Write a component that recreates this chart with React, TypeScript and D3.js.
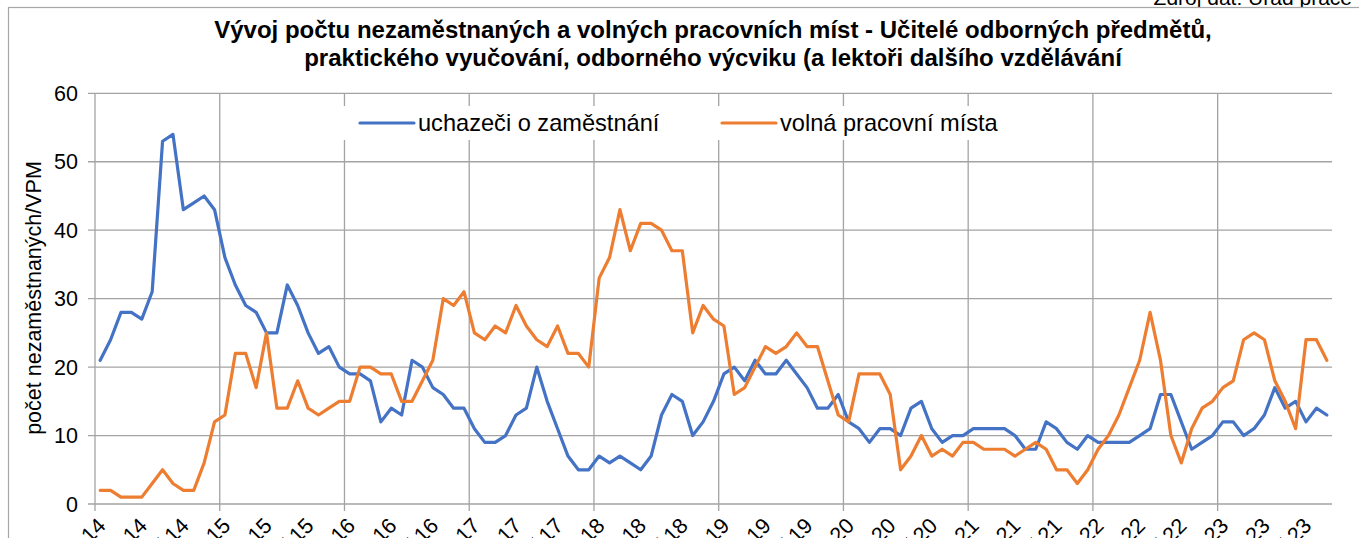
import * as React from 'react';
import * as d3 from 'd3';

// months Jan 2014 .. Nov 2023
const months = d3.timeMonth.range(new Date(2014, 0, 1), new Date(2023, 11, 1));
const monthNames = ['led', 'úno', 'bře', 'dub', 'kvě', 'čvn', 'čvc', 'srp', 'zář', 'říj', 'lis', 'pro'];

const uchazeci = [
  21, 24, 28, 28, 27, 31, 53, 54, 43, 44, 45, 43,
  36, 32, 29, 28, 25, 25, 32, 29, 25, 22, 23, 20,
  19, 19, 18, 12, 14, 13, 21, 20, 17, 16, 14, 14,
  11, 9, 9, 10, 13, 14, 20, 15, 11, 7, 5, 5,
  7, 6, 7, 6, 5, 7, 13, 16, 15, 10, 12, 15,
  19, 20, 18, 21, 19, 19, 21, 19, 17, 14, 14, 16,
  12, 11, 9, 11, 11, 10, 14, 15, 11, 9, 10, 10,
  11, 11, 11, 11, 10, 8, 8, 12, 11, 9, 8, 10,
  9, 9, 9, 9, 10, 11, 16, 16, 12, 8, 9, 10,
  12, 12, 10, 11, 13, 17, 14, 15, 12, 14, 13,
];

const volnaMista = [
  2, 2, 1, 1, 1, 3, 5, 3, 2, 2, 6, 12,
  13, 22, 22, 17, 25, 14, 14, 18, 14, 13, 14, 15,
  15, 20, 20, 19, 19, 15, 15, 18, 21, 30, 29, 31,
  25, 24, 26, 25, 29, 26, 24, 23, 26, 22, 22, 20,
  33, 36, 43, 37, 41, 41, 40, 37, 37, 25, 29, 27,
  26, 16, 17, 20, 23, 22, 23, 25, 23, 23, 18, 13,
  12, 19, 19, 19, 16, 5, 7, 10, 7, 8, 7, 9,
  9, 8, 8, 8, 7, 8, 9, 8, 5, 5, 3, 5,
  8, 10, 13, 17, 21, 28, 21, 10, 6, 11, 14, 15,
  17, 18, 24, 25, 24, 18, 15, 11, 24, 24, 21,
];

const yTicks = [0, 10, 20, 30, 40, 50, 60];

const series = [
  { name: 'uchazeči o zaměstnání', values: uchazeci, color: '#4472C4' },
  { name: 'volná pracovní místa', values: volnaMista, color: '#ED7D31' },
];

const W = 1359;
const H = 538;
const left = 95;
const right = 1332;
const top = 93.3;
const bottom = 504;
const grid = '#a3a3a3';
const font = 'Liberation Sans, Arial, sans-serif';

export default function App() {
  const idx = months.map((_, i) => i);
  const x = d3.scaleBand<number>().domain(idx).range([left, right]).padding(0);
  const y = d3.scaleLinear().domain([0, 60]).range([bottom, top]);
  const cx = (i: number) => (x(i) as number) + x.bandwidth() / 2;

  const line = d3
    .line<number>()
    .x((_, i) => cx(i))
    .y((d) => y(d));

  const yearStarts = idx.filter((i) => i % 12 === 0);
  const labelIdx = idx.filter((i) => i % 4 === 0);
  const fmt = (d: Date) => monthNames[d.getMonth()] + '.' + d3.timeFormat('%y')(d);

  return (
    <svg width={W} height={H} style={{ position: 'absolute', left: 0, top: 0, background: '#fff' }} fontFamily={font}>
      <text x={1352} y={5} textAnchor="end" fontSize={21} fill="#000">Zdroj dat: Úřad práce</text>
      <rect x={8.5} y={7.5} width={1400} height={600} fill="#fff" stroke="#a6a6a6" strokeWidth={1.2} />

      <text x={713} y={38} textAnchor="middle" fontSize={24} fontWeight="bold" fill="#000">
        Vývoj počtu nezaměstnaných a volných pracovních míst - Učitelé odborných předmětů,
      </text>
      <text x={713} y={66} textAnchor="middle" fontSize={24} fontWeight="bold" fill="#000">
        praktického vyučování, odborného výcviku (a lektoři dalšího vzdělávání
      </text>

      {/* horizontal gridlines */}
      {yTicks.map((t) => (
        <g key={'h' + t}>
          <line x1={left - 7} x2={right} y1={y(t)} y2={y(t)} stroke={grid} strokeWidth={1.3} />
          <text x={78} y={y(t) + 7.5} textAnchor="end" fontSize={21.5} fill="#000">{t}</text>
        </g>
      ))}

      {/* vertical gridlines at year starts */}
      {yearStarts.map((i) => (
        <line key={'v' + i} x1={x(i)} x2={x(i)} y1={top} y2={bottom + 7} stroke={grid} strokeWidth={1.3} />
      ))}

      {/* legend */}
      <rect x={343} y={106} width={675} height={34} fill="#fff" />
      {series.map((s, k) => {
        const lx = k === 0 ? 360 : 722;
        return (
          <g key={s.name}>
            <line x1={lx} x2={lx + 54} y1={123} y2={123} stroke={s.color} strokeWidth={3.2} strokeLinecap="round" />
            <text x={lx + 58} y={131} fontSize={23.6} fill="#000">{s.name}</text>
          </g>
        );
      })}

      {series.map((s) => (
        <path key={'p' + s.name} d={line(s.values) || ''} fill="none" stroke={s.color} strokeWidth={3.2} strokeLinejoin="round" strokeLinecap="round" />
      ))}

      {/* x labels */}
      {labelIdx.map((i) => (
        <text key={'x' + i} transform={`translate(${(x(i) as number) + 12},${bottom + 23}) rotate(-45)`} textAnchor="end" fontSize={21.5} fill="#000">
          {fmt(months[i])}
        </text>
      ))}

      <text transform={`translate(41,298) rotate(-90)`} textAnchor="middle" fontSize={21.5} fill="#000">
        počet nezaměstnaných/VPM
      </text>
    </svg>
  );
}
